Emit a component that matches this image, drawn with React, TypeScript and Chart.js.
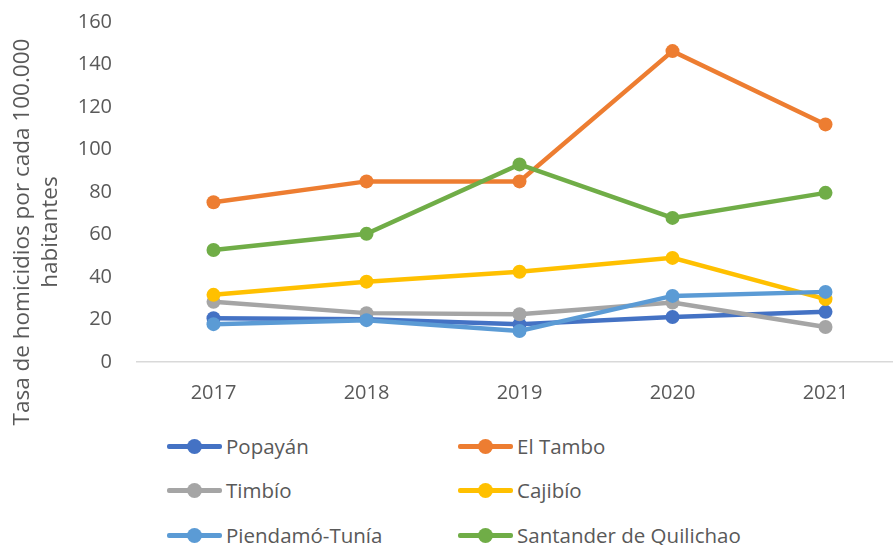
import React, { useEffect, useRef } from "react";
import { Chart, registerables } from "chart.js";

Chart.register(...registerables);

const years = ["2017", "2018", "2019", "2020", "2021"];
const seriesNames = ["Popayán", "El Tambo", "Timbío", "Cajibío", "Piendamó-Tunía", "Santander de Quilichao"];
const popayan = [20.6, 20.1, 17.8, 21.2, 23.6];
const elTambo = [75.2, 85, 85, 146.3, 111.8];
const timbio = [28.3, 23, 22.5, 28, 16.5];
const cajibio = [31.6, 37.8, 42.5, 49, 29.6];
const piendamo = [17.8, 19.7, 14.6, 31.1, 33];
const santander = [52.7, 60.3, 93, 67.8, 79.6];
const seriesValues = [popayan, elTambo, timbio, cajibio, piendamo, santander];
const colors = ["#4472C4", "#ED7D31", "#A5A5A5", "#FFC000", "#5B9BD5", "#70AD47"];
const yTicks = [0, 20, 40, 60, 80, 100, 120, 140, 160];
const yTitle = ["Tasa de homicidios por cada 100.000", "habitantes"];

const FONT = "'Open Sans', sans-serif";
const TEXT = "#595959";

export default function App() {
  const ref = useRef<HTMLCanvasElement | null>(null);

  useEffect(() => {
    document.body.style.margin = "0";
    const canvas = ref.current;
    if (!canvas) return;
    const chart = new Chart(canvas, {
      type: "line",
      data: {
        labels: years,
        datasets: seriesNames.map((name, i) => ({
          label: name,
          data: seriesValues[i],
          borderColor: colors[i],
          backgroundColor: colors[i],
          pointBackgroundColor: colors[i],
          pointBorderColor: colors[i],
          borderWidth: 4.5,
          pointRadius: 7,
          pointBorderWidth: 0,
          tension: 0,
          order: seriesNames.length - i,
        })),
      },
      options: {
        animation: false,
        responsive: false,
        devicePixelRatio: 1,
        layout: { padding: { top: 22, right: 18, left: 0, bottom: 0 } },
        plugins: { legend: { display: false }, tooltip: { enabled: false } },
        scales: {
          x: {
            offset: true,
            grid: { display: false, drawTicks: false },
            border: { display: true, color: "#D9D9D9", width: 1.5 },
            ticks: { color: TEXT, font: { family: FONT, size: 20 }, padding: 19 },
            afterFit: (s: any) => { s.height = 58; },
          },
          y: {
            min: 0,
            max: 160,
            afterBuildTicks: (s: any) => { s.ticks = yTicks.map((v) => ({ value: v })); },
            grid: { display: false, drawTicks: false },
            border: { display: false },
            ticks: { color: TEXT, font: { family: FONT, size: 20 }, padding: 25 },
            afterFit: (s: any) => { s.width = 137; s.paddingTop = 0; s.paddingBottom = 0; },
          },
        },
      },
    });
    return () => chart.destroy();
  }, []);

  return (
    <div style={{ position: "fixed", left: 0, top: 0, width: 893, height: 545, overflow: "hidden", background: "#fff" }}>
      <canvas ref={ref} width={920} height={420} style={{ position: "absolute", left: 0, top: 0, width: 920, height: 420 }} />
      <div
        style={{
          position: "absolute",
          left: 35 - 230,
          top: 232 - 28,
          width: 460,
          height: 56,
          transform: "rotate(-90deg)",
          transformOrigin: "230px 28px",
          textAlign: "center",
          fontFamily: FONT,
          fontSize: 22.5,
          lineHeight: "28px",
          color: TEXT,
          whiteSpace: "nowrap",
        }}
      >
        {yTitle.map((t) => (
          <div key={t}>{t}</div>
        ))}
      </div>
      {seriesNames.map((name, i) => {
        const col = i % 2;
        const row = Math.floor(i / 2);
        const left = col === 0 ? 167 : 458;
        const cy = [446, 490, 535][row];
        return (
          <div
            key={name}
            style={{ position: "absolute", left, top: cy - 15, height: 30, display: "flex", alignItems: "center" }}
          >
            <div style={{ position: "relative", width: 55, height: 30 }}>
              <div style={{ position: "absolute", left: 0, top: 13, width: 55, height: 4.5, borderRadius: 2, background: colors[i] }} />
              <div style={{ position: "absolute", left: 20, top: 7.5, width: 15, height: 15, borderRadius: "50%", background: colors[i] }} />
            </div>
            <span style={{ marginLeft: 4, fontFamily: FONT, fontSize: 20.5, color: TEXT, whiteSpace: "nowrap" }}>{name}</span>
          </div>
        );
      })}
    </div>
  );
}
